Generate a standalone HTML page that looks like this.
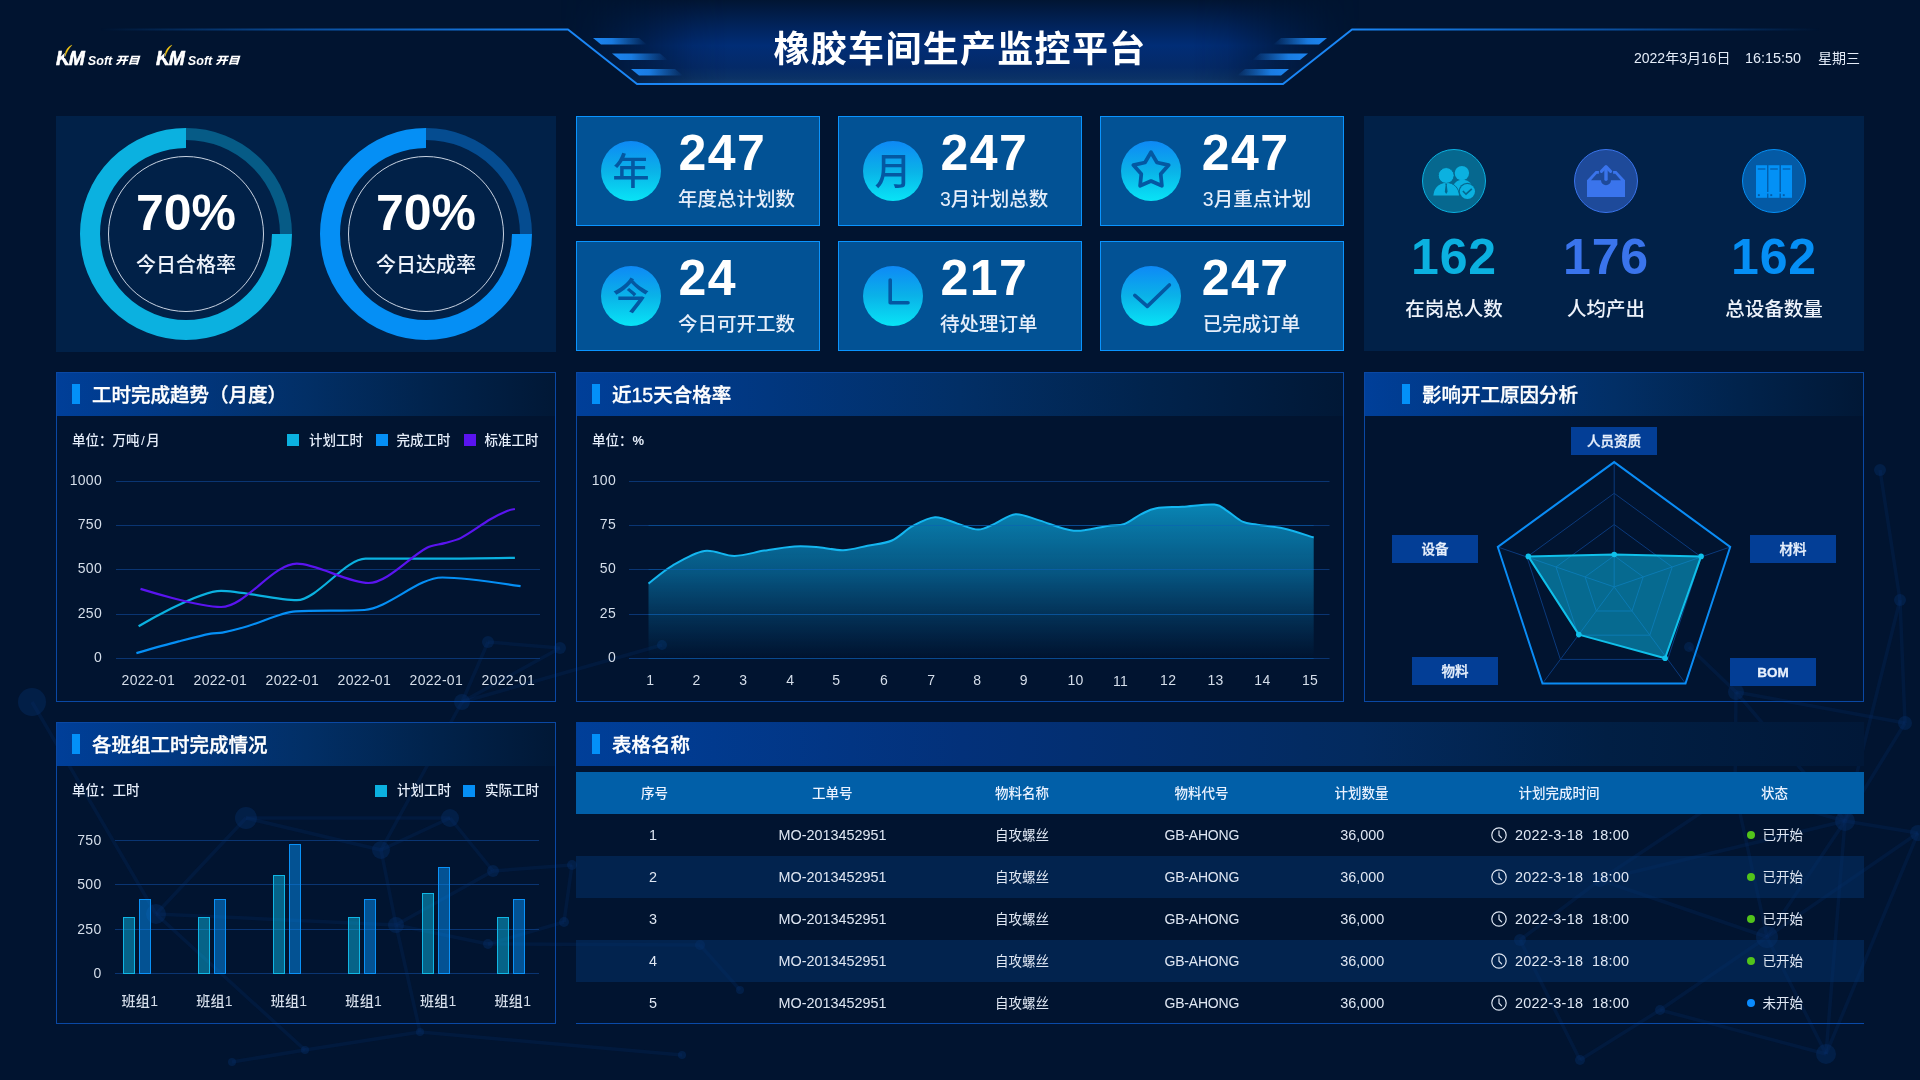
<!DOCTYPE html>
<html lang="zh-CN"><head><meta charset="utf-8"><title>橡胶车间生产监控平台</title>
<style>
*{box-sizing:border-box;margin:0;padding:0}
html,body{width:1920px;height:1080px;overflow:hidden;background:#011430}
body{position:relative;font-family:"Liberation Sans","Noto Sans CJK SC",sans-serif;color:#fff;-webkit-font-smoothing:antialiased}
.abs{position:absolute}
.t{position:absolute;white-space:nowrap;line-height:1}
.c{transform:translateX(-50%);text-align:center}
.r{transform:translateX(-100%);text-align:right}
.panel{position:absolute;border:1px solid #0a48a4}
.ptitle{position:absolute;left:0;top:0;right:0;height:43px;background:linear-gradient(90deg,rgb(0,63,153) 0%,rgb(2,47,102) 50%,rgb(1,35,76) 75%,rgb(1,24,54) 100%)}
.mark{position:absolute;top:11px;width:8px;height:20px;background:#0390f8}
.ptxt{position:absolute;top:11px;font-size:19.5px;font-weight:500;-webkit-text-stroke:.35px #fff;line-height:22px;color:#fff;white-space:nowrap}
.card{position:absolute;width:244px;height:110px;background:#025295;border:1px solid #0a94fe}
.ico{position:absolute;left:24px;top:24px;width:60px;height:60px;border-radius:50%;background:linear-gradient(180deg,#0e89f6 0%,#0ab2e8 50%,#08e4f6 100%)}
.ico span{position:absolute;left:0;top:0;width:60px;height:60px;line-height:64px;text-align:center;font-size:37px;font-weight:500;color:#0458a2}
.num{position:absolute;left:101.5px;top:12px;font-size:50px;font-weight:700;line-height:48px;letter-spacing:1.5px;color:#fff}
.lab{position:absolute;left:101px;top:71px;font-size:19.5px;font-weight:500;line-height:22px;color:#e6eefa;white-space:nowrap}
.ax{font-size:14px;color:#d5deea;letter-spacing:.3px}
.lg{font-size:13.5px;font-weight:500;color:#e6eefa}
.th{position:absolute;top:0;height:42px;line-height:43px;font-size:13.5px;font-weight:500;color:#eaf2ff;white-space:nowrap;transform:translateX(-50%)}
.td{position:absolute;height:42px;line-height:42px;font-size:14.4px;color:#dfe7f3;white-space:nowrap;transform:translateX(-50%)}
.row{position:absolute;left:576px;width:1288px;height:42px}
.tag{position:absolute;width:86px;height:28px;background:#033e96;color:#e8f0fc;font-size:13.5px;font-weight:500;-webkit-text-stroke:.3px #e8f0fc;line-height:30px;text-align:center}
</style></head><body><div id="root" style="position:absolute;left:0;top:0;width:1920px;height:1080px;will-change:transform">

<svg class="abs" style="left:0;top:0" width="1920" height="1080" viewBox="0 0 1920 1080">
<defs>
<linearGradient id="hl" gradientUnits="userSpaceOnUse" x1="100" y1="0" x2="1820" y2="0">
<stop offset="0" stop-color="#1277e8" stop-opacity="0"/><stop offset=".12" stop-color="#1277e8" stop-opacity=".6"/><stop offset=".27" stop-color="#1a86f5"/><stop offset=".73" stop-color="#1a86f5"/><stop offset=".88" stop-color="#1277e8" stop-opacity=".6"/><stop offset="1" stop-color="#1277e8" stop-opacity="0"/></linearGradient>
<radialGradient id="hg" gradientUnits="userSpaceOnUse" cx="960" cy="50" r="420" gradientTransform="translate(960 50) scale(1 .13) translate(-960 -50)">
<stop offset="0" stop-color="#033a8c" stop-opacity=".95"/><stop offset=".6" stop-color="#032f78" stop-opacity=".7"/><stop offset="1" stop-color="#011430" stop-opacity="0"/></radialGradient>
<linearGradient id="hv" x1="0" y1="0" x2="0" y2="1"><stop offset="0" stop-color="#011533"/><stop offset=".3" stop-color="#01235a"/><stop offset=".54" stop-color="#012d76"/><stop offset=".8" stop-color="#042a68"/><stop offset=".93" stop-color="#0b3266"/><stop offset="1" stop-color="#123c70"/></linearGradient>
<linearGradient id="hm" gradientUnits="userSpaceOnUse" x1="560" y1="0" x2="1360" y2="0"><stop offset="0" stop-color="#fff" stop-opacity="0"/><stop offset=".04" stop-color="#fff" stop-opacity=".1"/><stop offset=".104" stop-color="#fff" stop-opacity=".45"/><stop offset=".166" stop-color="#fff" stop-opacity=".88"/><stop offset=".21" stop-color="#fff" stop-opacity="1"/><stop offset=".79" stop-color="#fff" stop-opacity="1"/><stop offset=".834" stop-color="#fff" stop-opacity=".88"/><stop offset=".896" stop-color="#fff" stop-opacity=".45"/><stop offset=".96" stop-color="#fff" stop-opacity=".1"/><stop offset="1" stop-color="#fff" stop-opacity="0"/></linearGradient>
<mask id="hmask"><rect x="0" y="0" width="1920" height="100" fill="url(#hm)"/></mask>
<linearGradient id="sl" x1="0" y1="0" x2="1" y2="0"><stop offset="0" stop-color="#1c86f2"/><stop offset=".35" stop-color="#1c86f2" stop-opacity=".9"/><stop offset="1" stop-color="#1c86f2" stop-opacity="0"/></linearGradient>
<linearGradient id="sr" x1="1" y1="0" x2="0" y2="0"><stop offset="0" stop-color="#1c86f2"/><stop offset=".35" stop-color="#1c86f2" stop-opacity=".9"/><stop offset="1" stop-color="#1c86f2" stop-opacity="0"/></linearGradient>
</defs>
<g opacity=".5">
<line x1="246" y1="818" x2="450" y2="818" stroke="#0b3f96" stroke-opacity=".28" stroke-width="3.5"/>
<line x1="246" y1="818" x2="381" y2="850" stroke="#0b3f96" stroke-opacity=".28" stroke-width="3.5"/>
<line x1="246" y1="818" x2="156" y2="914" stroke="#0b3f96" stroke-opacity=".28" stroke-width="3.5"/>
<line x1="381" y1="850" x2="450" y2="818" stroke="#0b3f96" stroke-opacity=".28" stroke-width="3.5"/>
<line x1="381" y1="850" x2="396" y2="925" stroke="#0b3f96" stroke-opacity=".28" stroke-width="3.5"/>
<line x1="450" y1="818" x2="493" y2="871" stroke="#0b3f96" stroke-opacity=".28" stroke-width="3.5"/>
<line x1="396" y1="925" x2="493" y2="871" stroke="#0b3f96" stroke-opacity=".28" stroke-width="3.5"/>
<line x1="396" y1="925" x2="488" y2="944" stroke="#0b3f96" stroke-opacity=".28" stroke-width="3.5"/>
<line x1="156" y1="914" x2="396" y2="925" stroke="#0b3f96" stroke-opacity=".28" stroke-width="3.5"/>
<line x1="462" y1="702" x2="488" y2="642" stroke="#0b3f96" stroke-opacity=".28" stroke-width="3.5"/>
<line x1="462" y1="702" x2="560" y2="648" stroke="#0b3f96" stroke-opacity=".28" stroke-width="3.5"/>
<line x1="462" y1="702" x2="662" y2="645" stroke="#0b3f96" stroke-opacity=".28" stroke-width="3.5"/>
<line x1="462" y1="702" x2="381" y2="850" stroke="#0b3f96" stroke-opacity=".28" stroke-width="3.5"/>
<line x1="32" y1="702" x2="156" y2="914" stroke="#0b3f96" stroke-opacity=".28" stroke-width="3.5"/>
<line x1="493" y1="871" x2="572" y2="865" stroke="#0b3f96" stroke-opacity=".28" stroke-width="3.5"/>
<line x1="572" y1="865" x2="564" y2="922" stroke="#0b3f96" stroke-opacity=".28" stroke-width="3.5"/>
<line x1="564" y1="922" x2="488" y2="944" stroke="#0b3f96" stroke-opacity=".28" stroke-width="3.5"/>
<line x1="488" y1="944" x2="700" y2="945" stroke="#0b3f96" stroke-opacity=".28" stroke-width="3.5"/>
<line x1="700" y1="945" x2="740" y2="990" stroke="#0b3f96" stroke-opacity=".28" stroke-width="3.5"/>
<line x1="396" y1="925" x2="420" y2="1032" stroke="#0b3f96" stroke-opacity=".28" stroke-width="3.5"/>
<line x1="420" y1="1032" x2="305" y2="1050" stroke="#0b3f96" stroke-opacity=".28" stroke-width="3.5"/>
<line x1="305" y1="1050" x2="232" y2="1062" stroke="#0b3f96" stroke-opacity=".28" stroke-width="3.5"/>
<line x1="420" y1="1032" x2="682" y2="1055" stroke="#0b3f96" stroke-opacity=".28" stroke-width="3.5"/>
<line x1="156" y1="914" x2="305" y2="1050" stroke="#0b3f96" stroke-opacity=".28" stroke-width="3.5"/>
<line x1="560" y1="648" x2="488" y2="642" stroke="#0b3f96" stroke-opacity=".28" stroke-width="3.5"/>
<line x1="1845" y1="821" x2="1736" y2="692" stroke="#0b3f96" stroke-opacity=".28" stroke-width="3.5"/>
<line x1="1845" y1="821" x2="1905" y2="723" stroke="#0b3f96" stroke-opacity=".28" stroke-width="3.5"/>
<line x1="1845" y1="821" x2="1735" y2="790" stroke="#0b3f96" stroke-opacity=".28" stroke-width="3.5"/>
<line x1="1845" y1="821" x2="1767" y2="937" stroke="#0b3f96" stroke-opacity=".28" stroke-width="3.5"/>
<line x1="1845" y1="821" x2="1918" y2="833" stroke="#0b3f96" stroke-opacity=".28" stroke-width="3.5"/>
<line x1="1845" y1="821" x2="1826" y2="1054" stroke="#0b3f96" stroke-opacity=".28" stroke-width="3.5"/>
<line x1="1767" y1="937" x2="1826" y2="1054" stroke="#0b3f96" stroke-opacity=".28" stroke-width="3.5"/>
<line x1="1767" y1="937" x2="1735" y2="790" stroke="#0b3f96" stroke-opacity=".28" stroke-width="3.5"/>
<line x1="1767" y1="937" x2="1600" y2="880" stroke="#0b3f96" stroke-opacity=".28" stroke-width="3.5"/>
<line x1="1600" y1="880" x2="1520" y2="940" stroke="#0b3f96" stroke-opacity=".28" stroke-width="3.5"/>
<line x1="1767" y1="937" x2="1660" y2="1010" stroke="#0b3f96" stroke-opacity=".28" stroke-width="3.5"/>
<line x1="1660" y1="1010" x2="1826" y2="1054" stroke="#0b3f96" stroke-opacity=".28" stroke-width="3.5"/>
<line x1="1660" y1="1010" x2="1580" y2="1060" stroke="#0b3f96" stroke-opacity=".28" stroke-width="3.5"/>
<line x1="1520" y1="940" x2="1580" y2="1060" stroke="#0b3f96" stroke-opacity=".28" stroke-width="3.5"/>
<line x1="1736" y1="692" x2="1689" y2="647" stroke="#0b3f96" stroke-opacity=".28" stroke-width="3.5"/>
<line x1="1736" y1="692" x2="1905" y2="723" stroke="#0b3f96" stroke-opacity=".28" stroke-width="3.5"/>
<line x1="1905" y1="723" x2="1900" y2="600" stroke="#0b3f96" stroke-opacity=".28" stroke-width="3.5"/>
<line x1="1900" y1="600" x2="1880" y2="470" stroke="#0b3f96" stroke-opacity=".28" stroke-width="3.5"/>
<line x1="1735" y1="790" x2="1736" y2="692" stroke="#0b3f96" stroke-opacity=".28" stroke-width="3.5"/>
<line x1="1735" y1="790" x2="1600" y2="880" stroke="#0b3f96" stroke-opacity=".28" stroke-width="3.5"/>
<line x1="1845" y1="821" x2="1900" y2="600" stroke="#0b3f96" stroke-opacity=".28" stroke-width="3.5"/>
<line x1="1767" y1="937" x2="1918" y2="833" stroke="#0b3f96" stroke-opacity=".28" stroke-width="3.5"/>
<line x1="1845" y1="821" x2="1600" y2="880" stroke="#0b3f96" stroke-opacity=".28" stroke-width="3.5"/>
<line x1="1826" y1="1054" x2="1918" y2="833" stroke="#0b3f96" stroke-opacity=".28" stroke-width="3.5"/>
<circle cx="246" cy="818" r="11" fill="#0c4aa6" fill-opacity=".4"/>
<circle cx="450" cy="818" r="9" fill="#0c4aa6" fill-opacity=".4"/>
<circle cx="381" cy="850" r="9" fill="#0c4aa6" fill-opacity=".4"/>
<circle cx="156" cy="914" r="10" fill="#0c4aa6" fill-opacity=".4"/>
<circle cx="396" cy="925" r="8" fill="#0c4aa6" fill-opacity=".4"/>
<circle cx="493" cy="871" r="6" fill="#0c4aa6" fill-opacity=".4"/>
<circle cx="488" cy="642" r="6" fill="#0c4aa6" fill-opacity=".4"/>
<circle cx="462" cy="702" r="8" fill="#0c4aa6" fill-opacity=".4"/>
<circle cx="560" cy="648" r="6" fill="#0c4aa6" fill-opacity=".4"/>
<circle cx="564" cy="922" r="5" fill="#0c4aa6" fill-opacity=".4"/>
<circle cx="488" cy="944" r="5" fill="#0c4aa6" fill-opacity=".4"/>
<circle cx="662" cy="645" r="5" fill="#0c4aa6" fill-opacity=".4"/>
<circle cx="32" cy="702" r="14" fill="#0c4aa6" fill-opacity=".4"/>
<circle cx="572" cy="865" r="5" fill="#0c4aa6" fill-opacity=".4"/>
<circle cx="700" cy="945" r="5" fill="#0c4aa6" fill-opacity=".4"/>
<circle cx="740" cy="990" r="4" fill="#0c4aa6" fill-opacity=".4"/>
<circle cx="305" cy="1050" r="4" fill="#0c4aa6" fill-opacity=".4"/>
<circle cx="232" cy="1062" r="4" fill="#0c4aa6" fill-opacity=".4"/>
<circle cx="420" cy="1032" r="4" fill="#0c4aa6" fill-opacity=".4"/>
<circle cx="682" cy="1055" r="4" fill="#0c4aa6" fill-opacity=".4"/>
<circle cx="1845" cy="821" r="10" fill="#0c4aa6" fill-opacity=".4"/>
<circle cx="1767" cy="937" r="11" fill="#0c4aa6" fill-opacity=".4"/>
<circle cx="1826" cy="1054" r="10" fill="#0c4aa6" fill-opacity=".4"/>
<circle cx="1905" cy="723" r="7" fill="#0c4aa6" fill-opacity=".4"/>
<circle cx="1736" cy="692" r="8" fill="#0c4aa6" fill-opacity=".4"/>
<circle cx="1735" cy="790" r="8" fill="#0c4aa6" fill-opacity=".4"/>
<circle cx="1918" cy="833" r="8" fill="#0c4aa6" fill-opacity=".4"/>
<circle cx="1689" cy="647" r="5" fill="#0c4aa6" fill-opacity=".4"/>
<circle cx="1600" cy="880" r="7" fill="#0c4aa6" fill-opacity=".4"/>
<circle cx="1520" cy="940" r="6" fill="#0c4aa6" fill-opacity=".4"/>
<circle cx="1660" cy="1010" r="5" fill="#0c4aa6" fill-opacity=".4"/>
<circle cx="1900" cy="600" r="6" fill="#0c4aa6" fill-opacity=".4"/>
<circle cx="1880" cy="470" r="6" fill="#0c4aa6" fill-opacity=".4"/>
<circle cx="1580" cy="1060" r="5" fill="#0c4aa6" fill-opacity=".4"/>
</g>
<g mask="url(#hmask)"><path d="M545,0 L1375,0 L1352,29 L1283,84 L637,84 L568,29 Z" fill="url(#hv)"/></g>
<path d="M100,29.5 L568,29.5 L637,84 L1283,84 L1352,29.5 L1820,29.5" fill="none" stroke="url(#hl)" stroke-width="2" stroke-linejoin="round"/>
<path d="M593.0,38.0 h46 l8,6.5 h-46 Z" fill="url(#sl)"/>
<path d="M612.0,53.5 h48 l8,6.5 h-48 Z" fill="url(#sl)"/>
<path d="M631.0,69.0 h44 l8,6.5 h-44 Z" fill="url(#sl)"/>
<path d="M1327.0,38.0 h-46 l-8,6.5 h46 Z" fill="url(#sr)"/>
<path d="M1308.0,53.5 h-48 l-8,6.5 h48 Z" fill="url(#sr)"/>
<path d="M1289.0,69.0 h-44 l-8,6.5 h44 Z" fill="url(#sr)"/>
</svg>
<div class="abs" style="left:56px;top:40px;width:90px;height:30px"><span class="t" style="left:0;top:7.2px;font-size:21px;font-weight:700;font-style:italic;letter-spacing:-1.4px;-webkit-text-stroke:.6px #fff;transform:scaleX(.92);transform-origin:0 0">KM</span><svg class="abs" style="left:0;top:0" width="90" height="30" viewBox="0 0 90 30"><path d="M9.5,9.5 L17,9.5 L13,18 L8,18 Z" fill="#011430"/><path d="M16.1,5 C11.5,7 8.8,11 9.1,16.5 C10.6,12.5 12.6,8.5 16.1,5 Z" fill="#f5c816" stroke="#f5c816" stroke-width=".3"/><path d="M6.2,17 C8.5,21 11,23.4 14.8,24.8 L12.3,24.8 C9.4,23 7.4,21 5.7,18.4 Z" fill="#fff"/></svg><span class="t" style="left:31.8px;top:15px;font-size:12.6px;font-weight:700;font-style:italic;letter-spacing:0">Soft</span><span class="t" style="left:59.3px;top:13.6px;font-size:12.2px;font-weight:900;font-style:italic;letter-spacing:0;transform:scaleY(.84);transform-origin:0 93%">开目</span></div>
<div class="abs" style="left:156px;top:40px;width:90px;height:30px"><span class="t" style="left:0;top:7.2px;font-size:21px;font-weight:700;font-style:italic;letter-spacing:-1.4px;-webkit-text-stroke:.6px #fff;transform:scaleX(.92);transform-origin:0 0">KM</span><svg class="abs" style="left:0;top:0" width="90" height="30" viewBox="0 0 90 30"><path d="M9.5,9.5 L17,9.5 L13,18 L8,18 Z" fill="#011430"/><path d="M16.1,5 C11.5,7 8.8,11 9.1,16.5 C10.6,12.5 12.6,8.5 16.1,5 Z" fill="#f5c816" stroke="#f5c816" stroke-width=".3"/><path d="M6.2,17 C8.5,21 11,23.4 14.8,24.8 L12.3,24.8 C9.4,23 7.4,21 5.7,18.4 Z" fill="#fff"/></svg><span class="t" style="left:31.8px;top:15px;font-size:12.6px;font-weight:700;font-style:italic;letter-spacing:0">Soft</span><span class="t" style="left:59.3px;top:13.6px;font-size:12.2px;font-weight:900;font-style:italic;letter-spacing:0;transform:scaleY(.84);transform-origin:0 93%">开目</span></div>
<div class="t c" style="left:960px;top:31px;font-size:36px;font-weight:700;line-height:38px;letter-spacing:1.3px;color:#fff">橡胶车间生产监控平台</div>
<div class="t" style="left:1634px;top:51px;font-size:14px;line-height:14px;color:#e4ecf8">2022年3月16日</div>
<div class="t" style="left:1745px;top:51px;font-size:14.4px;line-height:14px;color:#e4ecf8">16:15:50</div>
<div class="t" style="left:1818px;top:51px;font-size:14px;line-height:14px;color:#e4ecf8">星期三</div>
<div class="abs" style="left:56px;top:116px;width:500px;height:236px;background:#012148"></div>
<svg class="abs" style="left:76px;top:124px" width="220" height="220" viewBox="-110 -110 220 220"><path d="M0,-100 A100,100 0 0 1 100,0" fill="none" stroke="#065b86" stroke-width="12"/><path d="M96,0 A96,96 0 1 1 0,-96" fill="none" stroke="#0bb1e0" stroke-width="20"/><circle cx="0" cy="0" r="77.5" fill="none" stroke="#c9d3e2" stroke-width="1"/></svg><div class="t c" style="left:186px;top:189px;font-size:50px;font-weight:700;line-height:48px;letter-spacing:0">70%</div><div class="t c" style="left:186px;top:254px;font-size:20px;font-weight:500;line-height:22px;color:#eef3fb">今日合格率</div>
<svg class="abs" style="left:316px;top:124px" width="220" height="220" viewBox="-110 -110 220 220"><path d="M0,-100 A100,100 0 0 1 100,0" fill="none" stroke="#054c90" stroke-width="12"/><path d="M96,0 A96,96 0 1 1 0,-96" fill="none" stroke="#058ff5" stroke-width="20"/><circle cx="0" cy="0" r="77.5" fill="none" stroke="#c9d3e2" stroke-width="1"/></svg><div class="t c" style="left:426px;top:189px;font-size:50px;font-weight:700;line-height:48px;letter-spacing:0">70%</div><div class="t c" style="left:426px;top:254px;font-size:20px;font-weight:500;line-height:22px;color:#eef3fb">今日达成率</div>
<div class="card" style="left:576px;top:116px"><div class="ico" style="margin-left:0px"><span>年</span></div><div class="num" style="margin-left:0px">247</div><div class="lab" style="margin-left:0px">年度总计划数</div></div>
<div class="card" style="left:838px;top:116px"><div class="ico" style="margin-left:0px"><span>月</span></div><div class="num" style="margin-left:0px">247</div><div class="lab" style="margin-left:0px">3月计划总数</div></div>
<div class="card" style="left:1100px;top:116px"><div class="ico" style="margin-left:-4px"><svg class="abs" style="left:0;top:0" width="60" height="60" viewBox="0 0 60 60"><path d="M30.0,11.2 L36.0,21.5 L47.7,24.1 L39.7,33.0 L40.9,44.8 L30.0,40.0 L19.1,44.8 L20.3,33.0 L12.3,24.1 L24.0,21.5 Z" fill="none" stroke="#0458a2" stroke-width="3.7" stroke-linejoin="round"/></svg></div><div class="num" style="margin-left:-0.8px">247</div><div class="lab" style="margin-left:0.8px">3月重点计划</div></div>
<div class="card" style="left:576px;top:241px"><div class="ico" style="margin-left:0px"><span>今</span></div><div class="num" style="margin-left:0px">24</div><div class="lab" style="margin-left:0px">今日可开工数</div></div>
<div class="card" style="left:838px;top:241px"><div class="ico" style="margin-left:0px"><svg class="abs" style="left:0;top:0" width="60" height="60" viewBox="0 0 60 60"><path d="M27.2,14 V36.8 H45" fill="none" stroke="#0458a2" stroke-width="3.6" stroke-linecap="round" stroke-linejoin="round"/></svg></div><div class="num" style="margin-left:0px">217</div><div class="lab" style="margin-left:0px">待处理订单</div></div>
<div class="card" style="left:1100px;top:241px"><div class="ico" style="margin-left:-4px"><svg class="abs" style="left:0;top:0" width="60" height="60" viewBox="0 0 60 60"><path d="M13.8,29.4 L26.3,40.4 L48.4,19" fill="none" stroke="#0458a2" stroke-width="3.6" stroke-linecap="round" stroke-linejoin="round"/></svg></div><div class="num" style="margin-left:-0.8px">247</div><div class="lab" style="margin-left:0.8px">已完成订单</div></div>
<div class="abs" style="left:1364px;top:116px;width:500px;height:235px;background:#012148"></div>
<svg class="abs" style="left:1421px;top:148px" width="66" height="66" viewBox="-33 -33 66 66"><circle r="31.5" fill="#06688f" stroke="#0bb1e0" stroke-width="1"/><g fill="#0bb1e0"><circle cx="7.9" cy="-7.9" r="7.2"/><path d="M-2,9 C-1,2.5 3,-1.2 8,-1.2 C13.5,-1.2 17,1.5 19,6 L19,12 L-2,12 Z"/><circle cx="-7.8" cy="-5.4" r="7.8" stroke="#06688f" stroke-width="1"/><path d="M-21.2,15 C-20.6,6.6 -15.2,1.6 -7.8,1.4 C-0.4,1.6 5,6.6 5.6,15 Z" stroke="#06688f" stroke-width="1"/><circle cx="-7.8" cy="-5.4" r="7.3"/><path d="M-8.9,2.6 h2.2 l-.5,1.6 l.8,6.6 l-1.4,2.2 l-1.4,-2.2 l.8,-6.6 Z" fill="#06688f"/><circle cx="13.4" cy="10.5" r="8.8" fill="#06688f"/><circle cx="13.4" cy="10.5" r="7.6"/><path d="M8.9,10 L12,13.2 L17.8,7.8" fill="none" stroke="#06688f" stroke-width="1.6"/></g></svg><div class="t c" style="left:1454px;top:232.5px;font-size:50px;font-weight:700;line-height:48px;letter-spacing:.9px;color:#0bb1e0">162</div><div class="t c" style="left:1454px;top:298px;font-size:19.5px;font-weight:500;line-height:22px;color:#eef3fb">在岗总人数</div>
<svg class="abs" style="left:1573px;top:148px" width="66" height="66" viewBox="-33 -33 66 66"><circle r="31.5" fill="#1e4a9a" stroke="#3a74ec" stroke-width="1"/><g fill="#3a74ec"><path d="M-19,-0.7 L-10.3,-10 H-7.1 V-7.2 H-9.2 L-15,-0.7 H-5 A5,5 0 0 0 5,-0.7 H15 L9.2,-7.2 H7.1 V-10 H10.3 L19,-0.7 V15.9 H-19 Z"/></g><g fill="none" stroke="#3a74ec" stroke-linecap="round" stroke-linejoin="round"><path d="M-4.6,-9.6 L0,-14.4 L4.6,-9.6" stroke-width="3"/><path d="M0,-13.5 V-1.8" stroke-width="3.4"/></g></svg><div class="t c" style="left:1606px;top:232.5px;font-size:50px;font-weight:700;line-height:48px;letter-spacing:.9px;color:#3a74ec">176</div><div class="t c" style="left:1606px;top:298px;font-size:19.5px;font-weight:500;line-height:22px;color:#eef3fb">人均产出</div>
<svg class="abs" style="left:1741px;top:148px" width="66" height="66" viewBox="-33 -33 66 66"><circle r="31.5" fill="#045aa5" stroke="#058ff5" stroke-width="1"/><g fill="#0391f6"><rect x="-18.0" y="-15.8" width="11.1" height="32.6"/><rect x="-5.6" y="-15.8" width="11.1" height="32.6"/><rect x="6.9" y="-15.8" width="11.1" height="32.6"/><rect x="-18" y="11" width="36" height="1.6"/></g><g fill="#045aa5"><rect x="-16.2" y="-12.6" width="7.6" height="1.2"/><rect x="-16.1" y="13.2" width="1.9" height="1.9"/><rect x="-3.8" y="-12.6" width="7.6" height="1.2"/><rect x="-3.7" y="13.2" width="1.9" height="1.9"/><rect x="8.7" y="-12.6" width="7.6" height="1.2"/><rect x="8.8" y="13.2" width="1.9" height="1.9"/></g></svg><div class="t c" style="left:1774px;top:232.5px;font-size:50px;font-weight:700;line-height:48px;letter-spacing:.9px;color:#058ff5">162</div><div class="t c" style="left:1774px;top:298px;font-size:19.5px;font-weight:500;line-height:22px;color:#eef3fb">总设备数量</div>
<div class="panel" style="left:56px;top:372px;width:500px;height:330px"><div class="ptitle" style=""></div><div class="mark" style="left:15px"></div><div class="ptxt" style="left:35px">工时完成趋势（月度）</div></div>
<div class="t lg" style="left:72px;top:433.7px">单位：万吨<span style="margin:0 1.5px">/</span>月</div>
<div class="abs" style="left:287.0px;top:434px;width:12px;height:12px;background:#0bb1e0"></div>
<div class="t lg" style="left:309.0px;top:434px">计划工时</div>
<div class="abs" style="left:375.5px;top:434px;width:12px;height:12px;background:#058ff5"></div>
<div class="t lg" style="left:396.5px;top:434px">完成工时</div>
<div class="abs" style="left:463.5px;top:434px;width:12px;height:12px;background:#5a14f0"></div>
<div class="t lg" style="left:484.5px;top:434px">标准工时</div>
<div class="t r ax" style="left:102px;top:473.3px">1000</div>
<div class="t r ax" style="left:102px;top:517.3px">750</div>
<div class="t r ax" style="left:102px;top:561.3px">500</div>
<div class="t r ax" style="left:102px;top:606.3px">250</div>
<div class="t r ax" style="left:102px;top:650.3px">0</div>
<div class="t c ax" style="left:148.3px;top:673px">2022-01</div>
<div class="t c ax" style="left:220.3px;top:673px">2022-01</div>
<div class="t c ax" style="left:292.3px;top:673px">2022-01</div>
<div class="t c ax" style="left:364.3px;top:673px">2022-01</div>
<div class="t c ax" style="left:436.3px;top:673px">2022-01</div>
<div class="t c ax" style="left:508.3px;top:673px">2022-01</div>
<svg class="abs" style="left:0;top:372px" width="576" height="330" viewBox="0 372 576 330">
<line x1="116" x2="540" y1="481.5" y2="481.5" stroke="#0a3572" stroke-width="1"/>
<line x1="116" x2="540" y1="525.5" y2="525.5" stroke="#0a3572" stroke-width="1"/>
<line x1="116" x2="540" y1="569.5" y2="569.5" stroke="#0a3572" stroke-width="1"/>
<line x1="116" x2="540" y1="614.5" y2="614.5" stroke="#0a3572" stroke-width="1"/>
<line x1="116" x2="540" y1="658.5" y2="658.5" stroke="#0a3572" stroke-width="1"/>
<path d="M138.6,626.3 C138.6,626.3 198.0,590.8 221.1,590.8 C240.7,590.8 277.8,600.2 296.8,600.2 C316.8,600.2 345.4,558.7 365.5,558.7 C384.7,558.7 421.6,558.7 442.3,558.7 C461.9,558.7 514.9,557.8 514.9,557.8" fill="none" stroke="#0bb1e0" stroke-width="2.2"/>
<path d="M136.4,653.1 C136.4,653.1 166.0,644.7 178.7,641.4 C188.3,638.9 201.1,635.5 210.8,633.6 C214.2,632.9 218.9,633.4 222.3,632.7 C229.9,631.2 240.0,628.5 247.5,626.3 C262.0,622.1 280.8,612.4 295.6,611.4 C315.9,610.0 344.6,611.4 364.4,610.0 C388.6,608.3 418.1,577.5 442.3,577.5 C464.9,577.5 520.6,586.2 520.6,586.2" fill="none" stroke="#058ff5" stroke-width="2.2"/>
<path d="M140.5,588.9 C140.5,588.9 198.3,607.0 221.1,607.0 C245.2,607.0 272.9,563.7 296.8,563.7 C317.1,563.7 348.2,583.0 368.5,583.0 C387.3,583.0 409.3,557.0 427.4,547.5 C432.1,545.0 439.5,544.6 444.6,543.1 C449.4,541.7 456.2,540.4 460.6,538.1 C469.9,533.3 481.3,524.6 490.4,519.3 C495.4,516.4 502.3,513.0 507.6,510.8 C509.7,509.9 514.9,509.0 514.9,509.0" fill="none" stroke="#5a14f0" stroke-width="2.2"/>
</svg>
<div class="panel" style="left:576px;top:372px;width:768px;height:330px"><div class="ptitle" style=""></div><div class="mark" style="left:15px"></div><div class="ptxt" style="left:35px">近15天合格率</div></div>
<div class="t lg" style="left:592px;top:433.7px">单位：<b style="font-size:13px">%</b></div>
<div class="t r ax" style="left:616px;top:473.3px">100</div>
<div class="t r ax" style="left:616px;top:517.3px">75</div>
<div class="t r ax" style="left:616px;top:561.3px">50</div>
<div class="t r ax" style="left:616px;top:606.3px">25</div>
<div class="t r ax" style="left:616px;top:650.3px">0</div>
<div class="t c ax" style="left:650.4px;top:673px">1</div>
<div class="t c ax" style="left:696.5px;top:673px">2</div>
<div class="t c ax" style="left:743.4px;top:673px">3</div>
<div class="t c ax" style="left:790.2px;top:673px">4</div>
<div class="t c ax" style="left:836.4px;top:673px">5</div>
<div class="t c ax" style="left:884.0px;top:673px">6</div>
<div class="t c ax" style="left:931.2px;top:673px">7</div>
<div class="t c ax" style="left:977.4px;top:673px">8</div>
<div class="t c ax" style="left:1023.9px;top:673px">9</div>
<div class="t c ax" style="left:1075.6px;top:673px">10</div>
<div class="t c ax" style="left:1120.6px;top:674px">11</div>
<div class="t c ax" style="left:1168.2px;top:673px">12</div>
<div class="t c ax" style="left:1215.5px;top:673px">13</div>
<div class="t c ax" style="left:1262.4px;top:673px">14</div>
<div class="t c ax" style="left:1310.0px;top:673px">15</div>
<svg class="abs" style="left:576px;top:372px" width="768" height="330" viewBox="576 372 768 330">
<defs><linearGradient id="ag" gradientUnits="userSpaceOnUse" x1="0" y1="504" x2="0" y2="658"><stop offset="0" stop-color="#0ba2d6" stop-opacity=".8"/><stop offset=".45" stop-color="#0a82b8" stop-opacity=".6"/><stop offset="1" stop-color="#0a6aa8" stop-opacity="0"/></linearGradient></defs>
<line x1="629" x2="1329.5" y1="481.5" y2="481.5" stroke="#0a3572" stroke-width="1"/>
<line x1="629" x2="1329.5" y1="525.5" y2="525.5" stroke="#0a3572" stroke-width="1"/>
<line x1="629" x2="1329.5" y1="569.5" y2="569.5" stroke="#0a3572" stroke-width="1"/>
<line x1="629" x2="1329.5" y1="614.5" y2="614.5" stroke="#0a3572" stroke-width="1"/>
<line x1="629" x2="1329.5" y1="658.5" y2="658.5" stroke="#0a3572" stroke-width="1"/>
<path d="M648.5,583.6 C652.5,580.6 663.2,571.0 672.5,565.6 C681.8,560.2 694.1,552.6 704.4,551.0 C714.7,549.4 724.4,556.0 734.4,555.9 C744.4,555.8 754.4,552.2 764.4,550.6 C774.4,549.0 785.3,547.1 794.4,546.5 C803.5,545.9 810.6,546.6 818.7,547.2 C826.8,547.8 835.0,550.5 843.1,550.2 C851.2,550.0 859.4,547.3 867.5,545.7 C875.6,544.1 884.4,543.8 891.9,540.5 C899.4,537.2 905.3,530.1 912.5,526.2 C919.7,522.3 927.5,517.6 935.0,517.2 C942.5,516.8 950.3,521.5 957.5,523.6 C964.7,525.7 971.9,529.6 978.1,529.6 C984.4,529.6 988.8,526.2 995.0,523.6 C1001.2,521.0 1008.1,514.7 1015.6,514.2 C1023.1,513.7 1030.3,517.9 1040.0,520.6 C1049.7,523.4 1062.5,529.8 1073.7,530.7 C1085.0,531.6 1099.0,527.0 1107.5,525.9 C1116.0,524.8 1118.8,526.0 1124.4,524.0 C1130.0,522.0 1135.9,516.8 1141.2,514.2 C1146.5,511.6 1149.3,509.4 1156.2,508.2 C1163.1,506.9 1172.8,507.3 1182.5,506.7 C1192.2,506.1 1206.9,503.8 1214.4,504.5 C1221.9,505.2 1222.8,508.3 1227.5,511.2 C1232.2,514.1 1237.5,519.5 1242.5,521.7 C1247.5,524.0 1250.6,523.6 1257.5,524.7 C1264.4,525.8 1274.3,526.4 1283.7,528.5 C1293.1,530.6 1308.7,536.0 1313.7,537.5 L1313.7,658 L648.5,658 Z" fill="url(#ag)"/>
<path d="M648.5,583.6 C652.5,580.6 663.2,571.0 672.5,565.6 C681.8,560.2 694.1,552.6 704.4,551.0 C714.7,549.4 724.4,556.0 734.4,555.9 C744.4,555.8 754.4,552.2 764.4,550.6 C774.4,549.0 785.3,547.1 794.4,546.5 C803.5,545.9 810.6,546.6 818.7,547.2 C826.8,547.8 835.0,550.5 843.1,550.2 C851.2,550.0 859.4,547.3 867.5,545.7 C875.6,544.1 884.4,543.8 891.9,540.5 C899.4,537.2 905.3,530.1 912.5,526.2 C919.7,522.3 927.5,517.6 935.0,517.2 C942.5,516.8 950.3,521.5 957.5,523.6 C964.7,525.7 971.9,529.6 978.1,529.6 C984.4,529.6 988.8,526.2 995.0,523.6 C1001.2,521.0 1008.1,514.7 1015.6,514.2 C1023.1,513.7 1030.3,517.9 1040.0,520.6 C1049.7,523.4 1062.5,529.8 1073.7,530.7 C1085.0,531.6 1099.0,527.0 1107.5,525.9 C1116.0,524.8 1118.8,526.0 1124.4,524.0 C1130.0,522.0 1135.9,516.8 1141.2,514.2 C1146.5,511.6 1149.3,509.4 1156.2,508.2 C1163.1,506.9 1172.8,507.3 1182.5,506.7 C1192.2,506.1 1206.9,503.8 1214.4,504.5 C1221.9,505.2 1222.8,508.3 1227.5,511.2 C1232.2,514.1 1237.5,519.5 1242.5,521.7 C1247.5,524.0 1250.6,523.6 1257.5,524.7 C1264.4,525.8 1274.3,526.4 1283.7,528.5 C1293.1,530.6 1308.7,536.0 1313.7,537.5" fill="none" stroke="#14b6f0" stroke-width="2" stroke-linejoin="round"/>
<line x1="648.5" x2="1313.7" y1="525.5" y2="525.5" stroke="#0a5aa5" stroke-opacity=".55" stroke-width="1"/>
<line x1="648.5" x2="1313.7" y1="569.5" y2="569.5" stroke="#0a5aa5" stroke-opacity=".55" stroke-width="1"/>
<line x1="648.5" x2="1313.7" y1="614.5" y2="614.5" stroke="#0a5aa5" stroke-opacity=".55" stroke-width="1"/>
<line x1="648.5" x2="1313.7" y1="658.5" y2="658.5" stroke="#0a5aa5" stroke-opacity=".55" stroke-width="1"/>
</svg>
<div class="panel" style="left:1364px;top:372px;width:500px;height:330px"><div class="ptitle" style=""></div><div class="mark" style="left:37px"></div><div class="ptxt" style="left:57px">影响开工原因分析</div></div>
<svg class="abs" style="left:1364px;top:372px" width="500" height="330" viewBox="1364 372 500 330">
<polygon points="1614.2,555.7 1643.2,576.9 1632.0,611.0 1596.3,611.0 1585.1,576.9" fill="none" stroke="#0b3a7c" stroke-width="1"/>
<polygon points="1614.2,524.5 1672.2,567.0 1649.8,635.2 1578.3,635.2 1556.0,567.0" fill="none" stroke="#0b3a7c" stroke-width="1"/>
<polygon points="1614.2,493.3 1701.2,557.0 1667.7,659.4 1560.4,659.4 1526.9,557.0" fill="none" stroke="#0b3a7c" stroke-width="1"/>
<line x1="1614.2" y1="586.9" x2="1614.2" y2="462.1" stroke="#0b3a7c" stroke-width="1"/>
<line x1="1614.2" y1="586.9" x2="1730.2" y2="547.0" stroke="#0b3a7c" stroke-width="1"/>
<line x1="1614.2" y1="586.9" x2="1685.5" y2="683.5" stroke="#0b3a7c" stroke-width="1"/>
<line x1="1614.2" y1="586.9" x2="1542.5" y2="683.5" stroke="#0b3a7c" stroke-width="1"/>
<line x1="1614.2" y1="586.9" x2="1497.8" y2="547.0" stroke="#0b3a7c" stroke-width="1"/>
<polygon points="1614.2,462.1 1730.2,547.0 1685.5,683.5 1542.5,683.5 1497.8,547.0" fill="none" stroke="#0a8cf5" stroke-width="2" stroke-linejoin="miter"/>
<polygon points="1614.2,554.5 1701.1,556.4 1665.1,658.2 1578.8,634.6 1528.3,556.4" fill="#0bb1e0" fill-opacity=".55" stroke="#10c0ea" stroke-width="2" stroke-linejoin="round"/>
<circle cx="1614.2" cy="554.5" r="2.8" fill="#10c0ea"/>
<circle cx="1701.1" cy="556.4" r="2.8" fill="#10c0ea"/>
<circle cx="1665.1" cy="658.2" r="2.8" fill="#10c0ea"/>
<circle cx="1578.8" cy="634.6" r="2.8" fill="#10c0ea"/>
<circle cx="1528.3" cy="556.4" r="2.8" fill="#10c0ea"/>
</svg>
<div class="tag" style="left:1571px;top:427px">人员资质</div>
<div class="tag" style="left:1392px;top:535px">设备</div>
<div class="tag" style="left:1750px;top:535px">材料</div>
<div class="tag" style="left:1412px;top:657px">物料</div>
<div class="tag" style="left:1730px;top:658px"><b>BOM</b></div>
<div class="panel" style="left:56px;top:722px;width:500px;height:302px"><div class="ptitle" style=""></div><div class="mark" style="left:15px"></div><div class="ptxt" style="left:35px">各班组工时完成情况</div></div>
<div class="t lg" style="left:72px;top:784.3px">单位：工时</div>
<div class="abs" style="left:375.0px;top:784.5px;width:12px;height:12px;background:#0bb1e0"></div>
<div class="t lg" style="left:397.0px;top:784px">计划工时</div>
<div class="abs" style="left:463.0px;top:784.5px;width:12px;height:12px;background:#058ff5"></div>
<div class="t lg" style="left:485.0px;top:784px">实际工时</div>
<div class="t r ax" style="left:101.5px;top:832.5px">750</div>
<div class="t r ax" style="left:101.5px;top:876.5px">500</div>
<div class="t r ax" style="left:101.5px;top:921.5px">250</div>
<div class="t r ax" style="left:101.5px;top:965.5px">0</div>
<svg class="abs" style="left:56px;top:722px" width="500" height="302" viewBox="56 722 500 302">
<line x1="115" x2="539" y1="840.5" y2="840.5" stroke="#0a3572" stroke-width="1"/>
<line x1="115" x2="539" y1="884.5" y2="884.5" stroke="#0a3572" stroke-width="1"/>
<line x1="115" x2="539" y1="929.5" y2="929.5" stroke="#0a3572" stroke-width="1"/>
<line x1="115" x2="539" y1="973.5" y2="973.5" stroke="#0a3572" stroke-width="1"/>
<rect x="123.5" y="917.5" width="11" height="56.0" fill="#0bb1e0" fill-opacity=".5" stroke="#10b6e4" stroke-width="1"/>
<rect x="139.5" y="899.5" width="11" height="74.0" fill="#058ff5" fill-opacity=".5" stroke="#0a92f8" stroke-width="1"/>
<rect x="198.5" y="917.5" width="11" height="56.0" fill="#0bb1e0" fill-opacity=".5" stroke="#10b6e4" stroke-width="1"/>
<rect x="214.5" y="899.5" width="11" height="74.0" fill="#058ff5" fill-opacity=".5" stroke="#0a92f8" stroke-width="1"/>
<rect x="273.5" y="875.5" width="11" height="98.0" fill="#0bb1e0" fill-opacity=".5" stroke="#10b6e4" stroke-width="1"/>
<rect x="289.5" y="844.5" width="11" height="129.0" fill="#058ff5" fill-opacity=".5" stroke="#0a92f8" stroke-width="1"/>
<rect x="348.5" y="917.5" width="11" height="56.0" fill="#0bb1e0" fill-opacity=".5" stroke="#10b6e4" stroke-width="1"/>
<rect x="364.5" y="899.5" width="11" height="74.0" fill="#058ff5" fill-opacity=".5" stroke="#0a92f8" stroke-width="1"/>
<rect x="422.5" y="893.5" width="11" height="80.0" fill="#0bb1e0" fill-opacity=".5" stroke="#10b6e4" stroke-width="1"/>
<rect x="438.5" y="867.5" width="11" height="106.0" fill="#058ff5" fill-opacity=".5" stroke="#0a92f8" stroke-width="1"/>
<rect x="497.5" y="917.5" width="11" height="56.0" fill="#0bb1e0" fill-opacity=".5" stroke="#10b6e4" stroke-width="1"/>
<rect x="513.5" y="899.5" width="11" height="74.0" fill="#058ff5" fill-opacity=".5" stroke="#0a92f8" stroke-width="1"/>
</svg>
<div class="t c ax" style="left:139.9px;top:994px;font-weight:500">班组1</div>
<div class="t c ax" style="left:214.5px;top:994px;font-weight:500">班组1</div>
<div class="t c ax" style="left:289.1px;top:994px;font-weight:500">班组1</div>
<div class="t c ax" style="left:363.7px;top:994px;font-weight:500">班组1</div>
<div class="t c ax" style="left:438.3px;top:994px;font-weight:500">班组1</div>
<div class="t c ax" style="left:512.9px;top:994px;font-weight:500">班组1</div>
<div class="abs" style="left:576px;top:722px;width:1288px;height:44px"><div class="ptitle" style="height:44px;background:linear-gradient(90deg,rgb(0,63,153) 0%,rgb(3,49,122) 30%,rgb(3,42,94) 61%,rgb(1,31,68) 80%,rgb(1,24,56) 100%)"></div><div class="mark" style="left:16px;top:12px"></div><div class="ptxt" style="left:36px;top:12px">表格名称</div></div>
<div class="row" style="top:772px;background:#015fa8">
<div class="th" style="left:78.6px">序号</div>
<div class="th" style="left:256.3px">工单号</div>
<div class="th" style="left:446.0px">物料名称</div>
<div class="th" style="left:625.5px">物料代号</div>
<div class="th" style="left:785.6px">计划数量</div>
<div class="th" style="left:983.0px">计划完成时间</div>
<div class="th" style="left:1198.5px">状态</div>
</div>
<div class="row" style="top:814px;">
<div class="td" style="left:77.0px">1</div>
<div class="td" style="left:256.6px">MO-2013452951</div>
<div class="td" style="left:446.0px;font-size:13.5px;padding-top:1px">自攻螺丝</div>
<div class="td" style="left:625.8px;font-size:14px;letter-spacing:-.2px">GB-AHONG</div>
<div class="td" style="left:786.3px">36,000</div>
<div class="td" style="left:939.0px;transform:none;letter-spacing:.3px"><svg class="abs" style="left:-24px;top:13px" width="16" height="16" viewBox="0 0 16 16"><circle cx="8" cy="8" r="7.2" fill="none" stroke="#dfe7f3" stroke-width="1.2"/><path d="M8,3.8 V8.2 L10.6,10.8" fill="none" stroke="#dfe7f3" stroke-width="1.2" stroke-linecap="round"/></svg>2022-3-18&nbsp; 18:00</div>
<div class="abs" style="left:1171.0px;top:17px;width:8px;height:8px;border-radius:50%;background:#52c41a"></div>
<div class="td" style="left:1186.5px;transform:none;font-size:13.5px;padding-top:1px">已开始</div>
</div>
<div class="row" style="top:856px;background:rgba(3,50,108,.5)">
<div class="td" style="left:77.0px">2</div>
<div class="td" style="left:256.6px">MO-2013452951</div>
<div class="td" style="left:446.0px;font-size:13.5px;padding-top:1px">自攻螺丝</div>
<div class="td" style="left:625.8px;font-size:14px;letter-spacing:-.2px">GB-AHONG</div>
<div class="td" style="left:786.3px">36,000</div>
<div class="td" style="left:939.0px;transform:none;letter-spacing:.3px"><svg class="abs" style="left:-24px;top:13px" width="16" height="16" viewBox="0 0 16 16"><circle cx="8" cy="8" r="7.2" fill="none" stroke="#dfe7f3" stroke-width="1.2"/><path d="M8,3.8 V8.2 L10.6,10.8" fill="none" stroke="#dfe7f3" stroke-width="1.2" stroke-linecap="round"/></svg>2022-3-18&nbsp; 18:00</div>
<div class="abs" style="left:1171.0px;top:17px;width:8px;height:8px;border-radius:50%;background:#52c41a"></div>
<div class="td" style="left:1186.5px;transform:none;font-size:13.5px;padding-top:1px">已开始</div>
</div>
<div class="row" style="top:898px;">
<div class="td" style="left:77.0px">3</div>
<div class="td" style="left:256.6px">MO-2013452951</div>
<div class="td" style="left:446.0px;font-size:13.5px;padding-top:1px">自攻螺丝</div>
<div class="td" style="left:625.8px;font-size:14px;letter-spacing:-.2px">GB-AHONG</div>
<div class="td" style="left:786.3px">36,000</div>
<div class="td" style="left:939.0px;transform:none;letter-spacing:.3px"><svg class="abs" style="left:-24px;top:13px" width="16" height="16" viewBox="0 0 16 16"><circle cx="8" cy="8" r="7.2" fill="none" stroke="#dfe7f3" stroke-width="1.2"/><path d="M8,3.8 V8.2 L10.6,10.8" fill="none" stroke="#dfe7f3" stroke-width="1.2" stroke-linecap="round"/></svg>2022-3-18&nbsp; 18:00</div>
<div class="abs" style="left:1171.0px;top:17px;width:8px;height:8px;border-radius:50%;background:#52c41a"></div>
<div class="td" style="left:1186.5px;transform:none;font-size:13.5px;padding-top:1px">已开始</div>
</div>
<div class="row" style="top:940px;background:rgba(3,50,108,.5)">
<div class="td" style="left:77.0px">4</div>
<div class="td" style="left:256.6px">MO-2013452951</div>
<div class="td" style="left:446.0px;font-size:13.5px;padding-top:1px">自攻螺丝</div>
<div class="td" style="left:625.8px;font-size:14px;letter-spacing:-.2px">GB-AHONG</div>
<div class="td" style="left:786.3px">36,000</div>
<div class="td" style="left:939.0px;transform:none;letter-spacing:.3px"><svg class="abs" style="left:-24px;top:13px" width="16" height="16" viewBox="0 0 16 16"><circle cx="8" cy="8" r="7.2" fill="none" stroke="#dfe7f3" stroke-width="1.2"/><path d="M8,3.8 V8.2 L10.6,10.8" fill="none" stroke="#dfe7f3" stroke-width="1.2" stroke-linecap="round"/></svg>2022-3-18&nbsp; 18:00</div>
<div class="abs" style="left:1171.0px;top:17px;width:8px;height:8px;border-radius:50%;background:#52c41a"></div>
<div class="td" style="left:1186.5px;transform:none;font-size:13.5px;padding-top:1px">已开始</div>
</div>
<div class="row" style="top:982px;">
<div class="td" style="left:77.0px">5</div>
<div class="td" style="left:256.6px">MO-2013452951</div>
<div class="td" style="left:446.0px;font-size:13.5px;padding-top:1px">自攻螺丝</div>
<div class="td" style="left:625.8px;font-size:14px;letter-spacing:-.2px">GB-AHONG</div>
<div class="td" style="left:786.3px">36,000</div>
<div class="td" style="left:939.0px;transform:none;letter-spacing:.3px"><svg class="abs" style="left:-24px;top:13px" width="16" height="16" viewBox="0 0 16 16"><circle cx="8" cy="8" r="7.2" fill="none" stroke="#dfe7f3" stroke-width="1.2"/><path d="M8,3.8 V8.2 L10.6,10.8" fill="none" stroke="#dfe7f3" stroke-width="1.2" stroke-linecap="round"/></svg>2022-3-18&nbsp; 18:00</div>
<div class="abs" style="left:1171.0px;top:17px;width:8px;height:8px;border-radius:50%;background:#0a8cff"></div>
<div class="td" style="left:1186.5px;transform:none;font-size:13.5px;padding-top:1px">未开始</div>
</div>
<div class="abs" style="left:576px;top:1023px;width:1288px;height:1px;background:#0a4aa8"></div>
</div></body></html>
